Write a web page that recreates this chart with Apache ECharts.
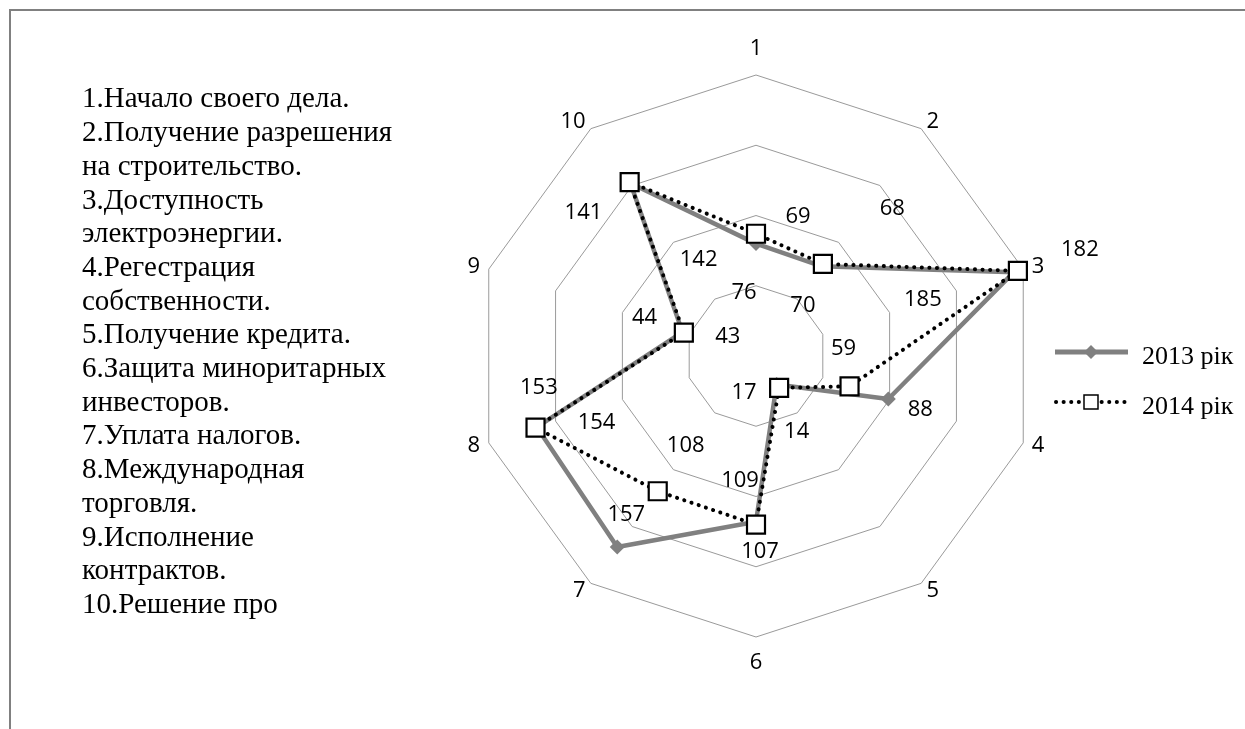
<!DOCTYPE html>
<html>
<head>
<meta charset="utf-8">
<script src="https://cdn.jsdelivr.net/npm/echarts@6/dist/echarts.min.js"></script>
<style>
html,body{margin:0;padding:0;background:#fff;}
#chart{width:1245px;height:729px;}
</style>
</head>
<body>
<div id="chart"></div>
<script>
// ---- data ----
const axisNames = ['1', '2', '3', '4', '5', '6', '7', '8', '9', '10'];
const seriesNames = ['2013 рік', '2014 рік'];
const values2013 = [69, 68, 182, 88, 14, 107, 157, 153, 44, 141];
const values2014 = [76, 70, 185, 59, 17, 109, 108, 154, 43, 142];
const axisMin = -11;
const axisMax = 189;
const descLines = [
  '1.Начало своего дела.',
  '2.Получение разрешения',
  'на строительство.',
  '3.Доступность',
  'электроэнергии.',
  '4.Регестрация',
  'собственности.',
  '5.Получение кредита.',
  '6.Защита миноритарных',
  'инвесторов.',
  '7.Уплата налогов.',
  '8.Международная',
  'торговля.',
  '9.Исполнение',
  'контрактов.',
  '10.Решение про'
];

// ---- label placement (style only: offsets from each point, px) ----
const labelOffsets2013 = [[42,-27],[71,-57],[66,-22],[32,11],[20,47],[4,30],[9,-32],[2,-39],[-38,-14],[-47,30]];
const labelOffsets2014 = [[-12,59],[-20,42],[-95,29],[-6,-38],[-35,5],[-16,-44],[28,-46],[61,-5],[44,4],[69,78]];

// ECharts radar runs counter-clockwise; reorder so axes run clockwise like the reference
const order = [0, 9, 8, 7, 6, 5, 4, 3, 2, 1];

const chart = echarts.init(document.getElementById('chart'));
const numFont = 'Open Sans';
const serif = 'Liberation Serif';
const numSize = 22;

chart.setOption({
  animation: false,
  backgroundColor: '#fff',
  legend: {
    data: seriesNames,
    orient: 'vertical',
    left: 1055,
    top: 339,
    itemWidth: 75,
    itemHeight: 26,
    itemGap: 24,
    icon: 'rect',
    itemStyle: { color: 'rgba(0,0,0,0)', borderWidth: 0 },
    textStyle: { fontFamily: serif, fontSize: 26, color: '#000', padding: [0,0,0,2] },
    selectedMode: false
  },
  radar: {
    center: [756, 356],
    radius: 281,
    startAngle: 90,
    shape: 'polygon',
    splitNumber: 4,
    indicator: order.map(i => ({ name: axisNames[i], min: axisMin, max: axisMax })),
    axisName: {
      color: '#000',
      fontFamily: numFont,
      fontSize: numSize,
      formatter: function (name) {
        if (name === '1') return '{t|' + name + '}';
        if (name === '6') return '{b|' + name + '}';
        return name;
      },
      rich: {
        t: { fontFamily: numFont, fontSize: numSize, color: '#000', padding: [0, 0, 6, 0] },
        b: { fontFamily: numFont, fontSize: numSize, color: '#000', padding: [6, 0, 0, 0] }
      }
    },
    nameGap: 9,
    axisLine: { show: false },
    axisTick: { show: false },
    axisLabel: { show: false },
    splitArea: { show: false },
    splitLine: { lineStyle: { color: '#9a9a9a', width: 1 } }
  },
  series: [{
    type: 'radar',
    data: [
      {
        name: seriesNames[0],
        value: order.map(i => values2013[i]),
        symbol: 'diamond',
        symbolSize: 15,
        itemStyle: { color: '#808080' },
        lineStyle: { color: '#808080', width: 4.5 }
      },
      {
        name: seriesNames[1],
        value: order.map(i => values2014[i]),
        symbol: 'rect',
        symbolSize: 18,
        itemStyle: { color: '#fff', borderColor: '#000', borderWidth: 2.2 },
        lineStyle: { color: '#000', width: 4, type: [0.1, 7.5], cap: 'round' }
      }
    ]
  }]
});

// ---- labels and decorations placed via the radar coordinate system ----
const cs = chart.getModel().getComponent('radar').coordinateSystem;
const graphics = [];

function addLabels(values, offsets) {
  values.forEach(function (v, i) {
    const p = cs.dataToPoint(v, order.indexOf(i));
    graphics.push({
      type: 'text',
      x: p[0] + offsets[i][0],
      y: p[1] + offsets[i][1],
      style: { text: String(v), fill: '#000', font: numSize + 'px "' + numFont + '"', align: 'center', verticalAlign: 'middle' },
      z: 10
    });
  });
}
addLabels(values2013, labelOffsets2013);
addLabels(values2014, labelOffsets2014);

// frame
graphics.push({
  type: 'polyline',
  shape: { points: [[10, 729], [10, 10], [1245, 10]] },
  style: { stroke: '#808080', lineWidth: 2, fill: null },
  silent: true
});

// description text
graphics.push({
  type: 'text',
  left: 82,
  top: 83,
  style: { text: descLines.join('\n'), fill: '#000', font: '29px "' + serif + '"', lineHeight: 33.7 }
});

// legend icons
graphics.push({
  type: 'line', shape: { x1: 1055, y1: 352, x2: 1128, y2: 352 },
  style: { stroke: '#808080', lineWidth: 5 }
});
graphics.push({
  type: 'polygon', shape: { points: [[1091, 345], [1098, 352], [1091, 359], [1084, 352]] },
  style: { fill: '#808080' }
});
graphics.push({
  type: 'line', shape: { x1: 1056, y1: 402, x2: 1126, y2: 402 },
  style: { stroke: '#000', lineWidth: 4, lineDash: [0.1, 7.5], lineCap: 'round' }
});
graphics.push({
  type: 'rect', shape: { x: 1084, y: 395, width: 14, height: 14 },
  style: { fill: '#fff', stroke: '#000', lineWidth: 1.5 }
});

chart.setOption({ graphic: graphics });
</script>
</body>
</html>
